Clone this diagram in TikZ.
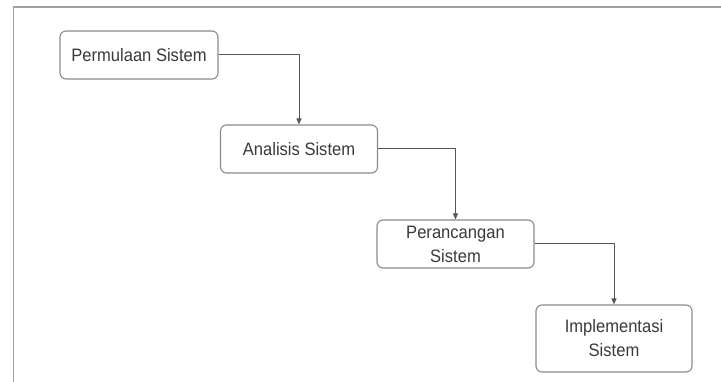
\documentclass[tikz,border=0pt]{standalone}
\usepackage{fontspec}
\setmainfont{Liberation Sans}[FakeStretch=0.92]
\usetikzlibrary{arrows.meta}
\definecolor{boxline}{HTML}{8A8A8A}
\definecolor{frameline}{HTML}{A0A0A0}
\definecolor{wire}{HTML}{555555}
\definecolor{label}{HTML}{3A3A3A}
\tikzset{
  stage/.style={draw=boxline, line width=1.1pt, rounded corners=6pt, fill=white,
    text=label, align=center, inner sep=0pt,
    font=\fontsize{18}{24}\selectfont},
  flow/.style={draw=wire, line width=1pt, -{Triangle[length=6pt,width=5pt]}},
}
\begin{document}
\begin{tikzpicture}[x=1pt,y=-1pt]
  \useasboundingbox (0,0) rectangle (721,382);
  % page frame (left and top edges)
  \draw[frameline, line width=1.8pt] (13.5,382) -- (13.5,7) -- (721,7);
  % process stages
  \node[stage, minimum width=158pt, minimum height=48pt] (b1) at (139,55) {Permulaan Sistem};
  \node[stage, minimum width=157pt, minimum height=48pt] (b2) at (299,149) {Analisis Sistem};
  \node[stage, minimum width=157pt, minimum height=48pt] (b3) at (455.5,244) {Perancangan\\Sistem};
  \node[stage, minimum width=156pt, minimum height=67pt] (b4) at (614,338.5) {Implementasi\\Sistem};
  % connectors
  \draw[flow] (b1.east) -| (b2.north);
  \draw[flow] (b2.east) -| (b3.north);
  \draw[flow] (b3.east) -| (b4.north);
\end{tikzpicture}
\end{document}
